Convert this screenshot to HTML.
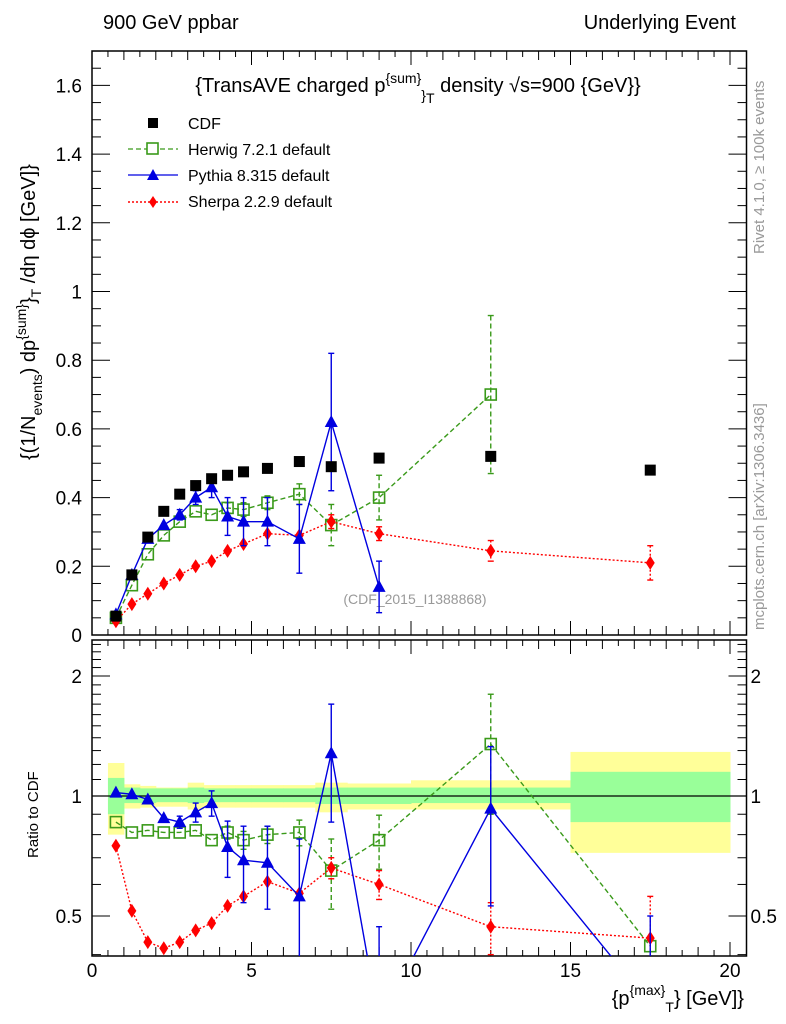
<!DOCTYPE html>
<html><head><meta charset="utf-8"><style>
html,body{margin:0;background:#fff;overflow:hidden;width:786px;height:1024px}
svg{display:block;font-family:"Liberation Sans",sans-serif}
</style></head><body>
<svg id="c" width="786" height="1024" viewBox="0 0 786 1024" xmlns="http://www.w3.org/2000/svg">
<text x="103" y="29" font-size="20">900 GeV ppbar</text>
<text x="736" y="29" font-size="20" text-anchor="end">Underlying Event</text>
<text x="418" y="92" font-size="20" text-anchor="middle">{TransAVE charged p<tspan dy="-9" font-size="14">{sum}</tspan><tspan dy="17" font-size="14">}</tspan><tspan dy="3" font-size="14">T</tspan><tspan dy="-11"> density √s=900 {GeV}}</tspan></text>
<text transform="translate(764,254) rotate(-90)" font-size="15" fill="#999">Rivet 4.1.0, ≥ 100k events</text>
<text transform="translate(764,630) rotate(-90)" font-size="15" fill="#999">mcplots.cern.ch [arXiv:1306.3436]</text>
<text transform="translate(35,460) rotate(-90)" font-size="20">{(1/N<tspan dy="7" font-size="14">events</tspan><tspan dy="-7">) dp</tspan><tspan dy="-9" font-size="14">{sum}</tspan><tspan dy="9">}</tspan><tspan dy="6" font-size="14">T</tspan><tspan dy="-6"> /dη  dϕ [GeV]}</tspan></text>
<text transform="translate(38,858) rotate(-90)" font-size="15">Ratio to CDF</text>
<text x="744" y="1005" font-size="20" text-anchor="end">{p<tspan dy="-10" font-size="14">{max}</tspan><tspan dy="17" font-size="14">T</tspan><tspan dy="-7">} [GeV]}</tspan></text>
<text x="415" y="604" font-size="14" fill="#999" text-anchor="middle">(CDF_2015_I1388868)</text>
<g id="main"></g><g id="ratio"></g>
<g font-size="16">
<rect x="148" y="118" width="10" height="10" fill="#000"/>
<text x="188" y="129">CDF</text>
<line x1="128" y1="149" x2="178" y2="149" stroke="#3a9a1a" stroke-width="1.3" stroke-dasharray="5,3"/>
<rect x="147" y="143" width="11" height="11" fill="#fff" stroke="#3a9a1a" stroke-width="1.6"/>
<text x="188" y="155">Herwig 7.2.1 default</text>
<line x1="128" y1="175" x2="178" y2="175" stroke="#0000e0" stroke-width="1.3"/>
<polygon points="153,169 159,180 147,180" fill="#0000e0"/>
<text x="188" y="181">Pythia 8.315 default</text>
<line x1="128" y1="202" x2="178" y2="202" stroke="#f00" stroke-width="1.5" stroke-dasharray="2,2"/>
<polygon points="153,196 157,202 153,208 149,202" fill="#f00"/>
<text x="188" y="207">Sherpa 2.2.9 default</text>
</g>
</svg>
<script>
const xs=[0.75,1.25,1.75,2.25,2.75,3.25,3.75,4.25,4.75,5.5,6.5,7.5,9,12.5,17.5];
const cdf=[0.055,0.175,0.285,0.36,0.41,0.435,0.455,0.465,0.475,0.485,0.505,0.49,0.515,0.52,0.48];
const herwig=[0.05,0.145,0.235,0.29,0.33,0.36,0.35,0.37,0.365,0.385,0.41,0.32,0.40,0.70];
const herwigErr=[0,0,0,0,0,0,0,0.015,0.02,0.02,0.03,0.06,0.065,0.23];
const pythia=[0.06,0.175,0.28,0.32,0.35,0.40,0.43,0.345,0.33,0.33,0.28,0.62,0.14];
const pythiaErr=[0,0,0,0,0.015,0.02,0.03,0.055,0.07,0.07,0.1,0.2,0.075];
const sherpa=[0.04,0.09,0.12,0.15,0.175,0.20,0.215,0.245,0.265,0.295,0.29,0.33,0.295,0.245,0.21];
const sherpaErr=[0,0,0,0,0,0,0,0,0,0,0,0.02,0.02,0.03,0.05];
const rHerwig=[0.86,0.81,0.82,0.81,0.81,0.82,0.775,0.81,0.775,0.80,0.81,0.65,0.775,1.35,0.42];
const rHerwigErr=[0,0,0,0,0,0,0,0.03,0.04,0.04,0.06,0.13,0.12,0.45,0];
const rPythia=[1.02,1.01,0.98,0.88,0.86,0.91,0.96,0.745,0.69,0.68,0.56,1.28,0.27,0.93,0.3];
const rPythiaErr=[0,0,0,0,0.03,0.05,0.07,0.12,0.15,0.16,0.22,0.42,0.2,0.4,0.2];
const rSherpa=[0.75,0.515,0.43,0.415,0.43,0.46,0.48,0.53,0.56,0.61,0.57,0.66,0.6,0.47,0.44];
const rSherpaErr=[0,0,0,0,0,0,0,0,0,0,0,0.04,0.05,0.07,0.12];
const binEdges=[0.5,1,1.5,2,2.5,3,3.5,4,4.5,5,6,7,8,10,15,20];
const bandTotLo=[0.8,0.93,0.935,0.94,0.94,0.925,0.935,0.935,0.935,0.935,0.935,0.91,0.925,0.925,0.72];
const bandTotHi=[1.21,1.07,1.06,1.05,1.05,1.08,1.065,1.065,1.065,1.065,1.065,1.08,1.075,1.095,1.29];
const bandStatLo=[0.9,0.96,0.96,0.965,0.965,0.96,0.965,0.965,0.965,0.965,0.965,0.955,0.955,0.96,0.86];
const bandStatHi=[1.11,1.05,1.045,1.045,1.045,1.05,1.045,1.045,1.045,1.045,1.045,1.05,1.05,1.05,1.15];
const xTicks=[0,5,10,15,20];
const yTicks=[0,0.2,0.4,0.6,0.8,1,1.2,1.4,1.6];
const yTickLabels=["0","0.2","0.4","0.6","0.8","1","1.2","1.4","1.6"];
const rTicks=[0.5,1,2];
const rTickLabels=["0.5","1","2"];

const NS="http://www.w3.org/2000/svg";
const L=92,R=746.5,MT=51,MB=635,RT=640,RB=956;
const X=v=>L+v*31.9;
const Y=v=>MB-v*343.5;
const RY=v=>796-120*Math.log2(v);
function mk(p,t,a){const e=document.createElementNS(NS,t);for(const k in a)e.setAttribute(k,a[k]);p.appendChild(e);return e;}
const gm=document.getElementById('main'),gr=document.getElementById('ratio');
const defs=mk(document.getElementById('c'),'defs',{});
const c1=mk(defs,'clipPath',{id:'cm'});mk(c1,'rect',{x:L,y:MT,width:R-L,height:MB-MT});
const c2=mk(defs,'clipPath',{id:'cr'});mk(c2,'rect',{x:L,y:RT,width:R-L,height:RB-RT});
const bands=mk(gr,'g',{'clip-path':'url(#cr)'});
for(let i=0;i<bandTotLo.length;i++){
 const r1=mk(bands,'rect',{x:X(binEdges[i]),y:RY(bandTotHi[i]),width:X(binEdges[i+1])-X(binEdges[i])+0.5,height:RY(bandTotLo[i])-RY(bandTotHi[i]),fill:'#ffff99'});
 
 
}
for(let i=0;i<bandStatLo.length;i++){
 const r2=mk(bands,'rect',{x:X(binEdges[i]),y:RY(bandStatHi[i]),width:X(binEdges[i+1])-X(binEdges[i])+0.5,height:RY(bandStatLo[i])-RY(bandStatHi[i]),fill:'#99ff99'});
 
 
}
mk(gr,'line',{x1:L,x2:R,y1:RY(1),y2:RY(1),stroke:'#000','stroke-width':1.3});
function frame(g,top,bot,name){
 const f=mk(g,'rect',{x:L,y:top,width:R-L,height:bot-top,fill:'none',stroke:'#000','stroke-width':1.5});
 
 
 for(let v=0;v<=20.4;v+=0.5){const maj=Math.abs(v%5)<1e-6;const len=maj?14:(Math.abs(v%1)<1e-6?9:6);
  mk(g,'line',{x1:X(v),x2:X(v),y1:bot,y2:bot-len,stroke:'#000'});
  mk(g,'line',{x1:X(v),x2:X(v),y1:top,y2:top+len,stroke:'#000'});}
}
frame(gm,MT,MB,'main-plot-frame');frame(gr,RT,RB,'ratio-plot-frame');
for(let v=0;v<=1.7001;v+=0.05){const maj=Math.abs((v/0.2)-Math.round(v/0.2))<1e-6;const len=maj?18:9;
 mk(gm,'line',{x1:L,x2:L+len,y1:Y(v),y2:Y(v),stroke:'#000'});mk(gm,'line',{x1:R,x2:R-len,y1:Y(v),y2:Y(v),stroke:'#000'});}
yTicks.forEach((v,i)=>{const t=mk(gm,'text',{x:L-10,y:Y(v)+7,'font-size':19,'text-anchor':'end'});t.textContent=yTickLabels[i];
 
 });
const rminor=[0.4,0.5,0.6,0.7,0.8,0.9,1,1.1,1.2,1.3,1.4,1.5,1.6,1.7,1.8,1.9,2,2.1,2.2,2.3,2.4];
rminor.forEach(v=>{const maj=rTicks.includes(v);const len=maj?18:9;
 mk(gr,'line',{x1:L,x2:L+len,y1:RY(v),y2:RY(v),stroke:'#000'});mk(gr,'line',{x1:R,x2:R-len,y1:RY(v),y2:RY(v),stroke:'#000'});});
rTicks.forEach((v,i)=>{const t=mk(gr,'text',{x:L-10,y:RY(v)+7,'font-size':19,'text-anchor':'end'});t.textContent=rTickLabels[i];
 
 
 const t2=mk(gr,'text',{x:R+4,y:RY(v)+7,'font-size':19});t2.textContent=rTickLabels[i];
 
 });
xTicks.forEach(v=>{const t=mk(gr,'text',{x:X(v),y:977,'font-size':19,'text-anchor':'middle'});t.textContent=v;
 
 });
function series(g,yf,vals,errs,color,dash,marker,name,clip){
 const s=mk(g,'g',{'clip-path':clip});
 
 
 if(dash!==null){let d='';vals.forEach((v,i)=>{d+=(i?'L':'M')+X(xs[i])+','+yf(v);});
  const a={d:d,fill:'none',stroke:color,'stroke-width':1.4};if(dash)a['stroke-dasharray']=dash;mk(s,'path',a);}
 vals.forEach((v,i)=>{const e=errs?errs[i]:0;const x=X(xs[i]),y=yf(v);
  if(e>0){const y1=yf(v+e),y2=yf(Math.max(v-e,0.01));const a={x1:x,x2:x,y1:y1,y2:y2,stroke:color,'stroke-width':1.4};if(dash)a['stroke-dasharray']=dash;mk(s,'line',a);
   mk(s,'line',{x1:x-3,x2:x+3,y1:y1,y2:y1,stroke:color,'stroke-width':1.4});mk(s,'line',{x1:x-3,x2:x+3,y1:y2,y2:y2,stroke:color,'stroke-width':1.4});}
  let m;
  if(marker==='fsq')m=mk(s,'rect',{x:x-5.5,y:y-5.5,width:11,height:11,fill:'#000'});
  else if(marker==='osq')m=mk(s,'rect',{x:x-5.5,y:y-5.5,width:11,height:11,fill:'none',stroke:color,'stroke-width':1.6});
  else if(marker==='tri')m=mk(s,'polygon',{points:`${x},${y-7} ${x+6.5},${y+5} ${x-6.5},${y+5}`,fill:color});
  else m=mk(s,'polygon',{points:`${x},${y-7} ${x+4.5},${y} ${x},${y+7} ${x-4.5},${y}`,fill:color});
  
  
 });
}
const G='#3a9a1a',B='#0000e0',Rd='#ff0000';
series(gm,Y,herwig,herwigErr,G,'5,3','osq','herwig-series','url(#cm)');
series(gm,Y,sherpa,sherpaErr,Rd,'2,2','dia','sherpa-series','url(#cm)');
series(gm,Y,pythia,pythiaErr,B,'','tri','pythia-series','url(#cm)');
series(gm,Y,cdf,null,'#000',null,'fsq','cdf-data','url(#cm)');
series(gr,RY,rHerwig,rHerwigErr,G,'5,3','osq','herwig-ratio','url(#cr)');
series(gr,RY,rSherpa,rSherpaErr,Rd,'2,2','dia','sherpa-ratio','url(#cr)');
series(gr,RY,rPythia,rPythiaErr,B,'','tri','pythia-ratio','url(#cr)');
</script>
</body></html>
